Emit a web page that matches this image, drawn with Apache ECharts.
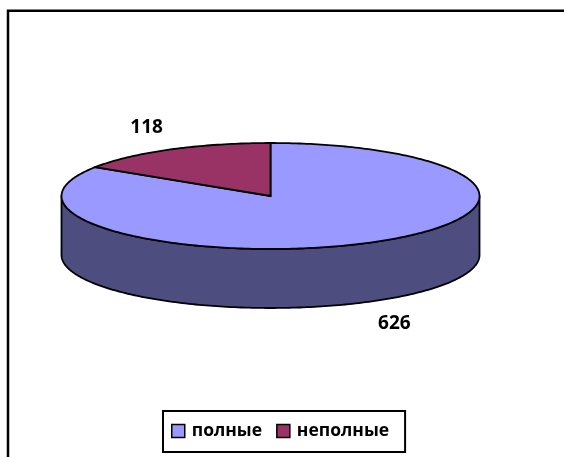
<!DOCTYPE html>
<html>
<head>
<meta charset="utf-8">
<script src="https://cdn.jsdelivr.net/npm/echarts@6/dist/echarts.min.js"></script>
<style>
html,body{margin:0;padding:0;background:#fff;}
#chart{width:564px;height:457px;}
</style>
</head>
<body>
<div id="chart"></div>
<script>
// ---- data ----
const categories = ['полные', 'неполные'];
const values = [626, 118];
const topColors = ['#9999FF', '#993366'];
const sideColors = ['#4D4D80', '#4D1A33'];

// ---- layout ----
const CX = 270.5, CY = 196, RX = 209, RY = 53, DEPTH = 59;
const total = values.reduce((a, b) => a + b, 0);

function pt(deg, yOff) {
  const r = deg * Math.PI / 180;
  return [CX + RX * Math.cos(r), CY - RY * Math.sin(r) + (yOff || 0)];
}
function arc(a0, a1, yOff) {
  const n = Math.max(2, Math.ceil(Math.abs(a1 - a0)) + 1);
  const out = [];
  for (let k = 0; k < n; k++) out.push(pt(a0 + (a1 - a0) * k / (n - 1), yOff));
  return out;
}

function renderItem(params, api) {
  const i = params.seriesIndex;
  const v = api.value(0);
  let before = 0;
  for (let k = 0; k < i; k++) before += values[k];
  const start = 90 - before / total * 360;
  const end = start - v / total * 360;
  const children = [];
  // visible front side: angles in [-180, 0]
  const lo = Math.max(end, -180), hi = Math.min(start, 0);
  if (lo < hi) {
    const topArc = arc(hi, lo, 0);
    const botArc = arc(lo, hi, DEPTH);
    children.push({
      type: 'polygon',
      shape: { points: topArc.concat(botArc) },
      style: { fill: sideColors[i], stroke: '#000', lineWidth: 1.8, lineJoin: 'round' },
      z2: 1
    });
  }
  children.push({
    type: 'polygon',
    shape: { points: [[CX, CY]].concat(arc(start, end, 0)) },
    style: { fill: topColors[i], stroke: '#000', lineWidth: 1.8, lineJoin: 'miter' },
    z2: 2
  });
  const mid = (start + end) / 2 * Math.PI / 180;
  const s = Math.sin(mid);
  const lx = CX + RX * 1.24 * Math.cos(mid);
  const ly = CY - RY * 1.48 * s + (s < 0 ? DEPTH : 0);
  children.push({
    type: 'text',
    x: lx, y: ly,
    style: {
      text: String(v), fill: '#000',
      font: 'bold 19px "Open Sans"',
      align: 'center', verticalAlign: 'middle'
    },
    z2: 10
  });
  return { type: 'group', children: children };
}

const chart = echarts.init(document.getElementById('chart'), null, { renderer: 'canvas' });
chart.setOption({
  animation: false,
  backgroundColor: '#fff',
  graphic: [{
    type: 'rect',
    shape: { x: 8, y: 10.7, width: 640, height: 520 },
    style: { fill: 'none', stroke: '#000', lineWidth: 2.5 },
    silent: true
  }],
  legend: {
    data: categories,
    left: 163, top: 411,
    orient: 'horizontal',
    icon: 'rect',
    itemWidth: 13, itemHeight: 13, itemGap: 14,
    padding: [10, 16, 11, 8],
    borderColor: '#000', borderWidth: 2,
    itemStyle: { borderColor: '#000', borderWidth: 1.5 },
    textStyle: { fontFamily: 'Open Sans', fontWeight: 'bold', fontSize: 17.5, color: '#000', lineHeight: 20, padding: [0, 0, 0, 2] },
    selectedMode: false
  },
  series: categories.map((name, i) => ({
    type: 'custom',
    name: name,
    coordinateSystem: 'none',
    renderItem: renderItem,
    itemStyle: { color: topColors[i] },
    data: [values[i]],
    silent: true
  }))
});
</script>
</body>
</html>
